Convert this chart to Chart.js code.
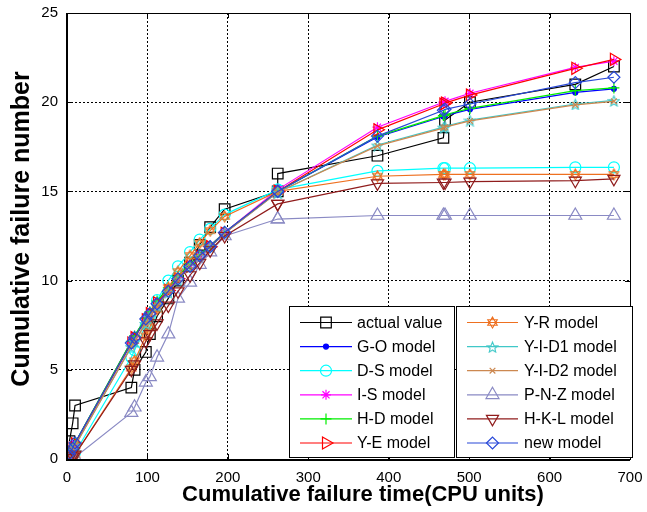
<!DOCTYPE html>
<html>
<head>
<meta charset="utf-8">
<script src="https://cdn.jsdelivr.net/npm/chart.js@4/dist/chart.umd.min.js"></script>
<style>
  html, body { margin: 0; padding: 0; background: #fff; }
  canvas { display: block; }
</style>
</head>
<body>
<canvas id="chart" width="647" height="512"></canvas>
<script>
// cumulative CPU time of each failure (x) and the fitted models (y)
const cpuTime = [3, 7, 10, 80, 84, 98, 103, 112, 126, 138, 153, 165, 178, 196, 262, 262, 386, 468, 470, 501, 632, 680];
const actualValue = [1, 2, 3, 4, 5, 6, 7, 8, 9, 10, 11, 12, 13, 14, 15, 16, 17, 18, 19, 20, 21, 22];
const goModel   = [0.3, 0.65, 0.9, 6.6, 6.9, 7.9, 8.25, 8.85, 9.6, 10.25, 10.95, 11.45, 11.95, 12.7, 15.0, 15.0, 18.05, 19.2, 19.25, 19.6, 20.55, 20.75];
const dsModel   = [0.05, 0.2, 0.35, 5.7, 6.1, 7.5, 8.0, 8.9, 10.0, 10.8, 11.6, 12.3, 12.9, 13.7, 15.1, 15.1, 16.15, 16.3, 16.3, 16.3, 16.35, 16.35];
const isModel   = [0.25, 0.6, 0.85, 6.5, 6.85, 7.85, 8.2, 8.8, 9.5, 10.15, 10.85, 11.4, 11.95, 12.7, 15.1, 15.1, 18.6, 20.0, 20.05, 20.5, 21.95, 22.3];
const hdModel   = [0.3, 0.65, 0.9, 6.6, 6.9, 7.9, 8.25, 8.85, 9.6, 10.25, 10.95, 11.45, 11.95, 12.7, 15.0, 15.0, 18.1, 19.25, 19.3, 19.65, 20.65, 20.8];
const yeModel   = [0.25, 0.6, 0.85, 6.5, 6.8, 7.8, 8.15, 8.75, 9.45, 10.1, 10.8, 11.35, 11.9, 12.65, 15.0, 15.0, 18.45, 19.9, 19.95, 20.4, 21.9, 22.4];
const yrModel   = [0.05, 0.15, 0.25, 5.1, 5.5, 6.9, 7.4, 8.4, 9.6, 10.5, 11.4, 12.1, 12.8, 13.6, 15.0, 15.0, 15.85, 15.95, 15.95, 15.95, 15.95, 15.95];
const yid1Model = [0.2, 0.5, 0.75, 6.3, 6.6, 7.6, 8.0, 8.6, 9.35, 10.05, 10.8, 11.35, 11.9, 12.65, 14.95, 14.95, 17.6, 18.6, 18.65, 19.0, 19.9, 20.1];
const yid2Model = [0.2, 0.5, 0.75, 6.3, 6.6, 7.6, 8.0, 8.6, 9.35, 10.05, 10.8, 11.35, 11.9, 12.65, 14.95, 14.95, 17.55, 18.55, 18.6, 18.95, 19.85, 20.05];
const pnzModel  = [0.02, 0.05, 0.1, 2.6, 2.9, 4.3, 4.6, 5.7, 7.0, 9.0, 9.9, 10.9, 11.6, 12.5, 13.45, 13.45, 13.65, 13.65, 13.65, 13.65, 13.65, 13.65];
const hklModel  = [0.05, 0.15, 0.25, 5.0, 5.3, 6.6, 7.0, 7.6, 8.6, 9.4, 10.3, 11.0, 11.7, 12.5, 14.3, 14.3, 15.45, 15.5, 15.5, 15.55, 15.6, 15.7];
const newModel  = [0.3, 0.6, 0.9, 6.5, 6.8, 7.85, 8.15, 8.7, 9.4, 10.1, 10.8, 11.4, 11.9, 12.7, 15.0, 15.0, 18.1, 19.55, 19.6, 19.9, 21.1, 21.4];

const xTicks = [0, 100, 200, 300, 400, 500, 600, 700];
const yTicks = [0, 5, 10, 15, 20, 25];

const FONT = "'Liberation Sans', Arial, sans-serif";

// outline markers MATLAB has but Chart.js doesn't
function makeMarker(kind, color, size) {
  const c = document.createElement('canvas');
  c.width = c.height = size;
  const g = c.getContext('2d');
  g.strokeStyle = color;
  g.lineWidth = 1.1;
  const m = size / 2, r = size / 2 - 1;
  g.beginPath();
  if (kind === 'hexagram') {
    for (let k = 0; k < 2; k++) {
      for (let j = 0; j < 3; j++) {
        const a = -Math.PI / 2 + k * Math.PI + j * 2 * Math.PI / 3;
        const px = m + r * Math.cos(a), py = m + r * Math.sin(a);
        if (j) g.lineTo(px, py); else g.moveTo(px, py);
      }
      g.closePath();
    }
  } else {
    for (let j = 0; j < 10; j++) {
      const a = -Math.PI / 2 + j * Math.PI / 5;
      const rr = j % 2 ? r * 0.45 : r;
      const px = m + rr * Math.cos(a), py = m + 1 + rr * Math.sin(a);
      if (j) g.lineTo(px, py); else g.moveTo(px, py);
    }
    g.closePath();
  }
  g.stroke();
  return c;
}

const NONE = 'rgba(0,0,0,0)';
// label, values, colour, point style, radius, rotation, fill
const series = [
  ['actual value', actualValue, '#000000', 'rect', 7.5, 0, NONE],
  ['G-O model', goModel, '#0000ff', 'circle', 2.5, 0, '#0000ff'],
  ['D-S model', dsModel, '#00ffff', 'circle', 5.5, 0, NONE],
  ['I-S model', isModel, '#ff00ff', 'star', 5, 0, NONE],
  ['H-D model', hdModel, '#00ee00', 'cross', 5.5, 0, NONE],
  ['Y-E model', yeModel, '#ff0000', 'triangle', 7, 90, NONE],
  ['Y-R model', yrModel, '#ee7020', makeMarker('hexagram', '#ee7020', 13), 6, 0, NONE],
  ['Y-I-D1 model', yid1Model, '#40c8c8', makeMarker('pentagram', '#40c8c8', 13), 6, 0, NONE],
  ['Y-I-D2 model', yid2Model, '#cc8850', 'crossRot', 4, 0, NONE],
  ['P-N-Z model', pnzModel, '#8a8ac4', 'triangle', 7.5, 0, NONE],
  ['H-K-L model', hklModel, '#901c1c', 'triangle', 7, 180, NONE],
  ['new model', newModel, '#2848d8', 'rectRot', 6, 0, NONE]
];

const datasets = series.map(([label, vals, color, style, radius, rot, fill], i) => ({
  label,
  data: cpuTime.map((x, k) => ({ x, y: vals[k] })),
  borderColor: color,
  backgroundColor: color,
  borderWidth: 1.2,
  pointStyle: style,
  pointRadius: radius,
  pointRotation: rot,
  pointBorderColor: color,
  pointBackgroundColor: fill,
  pointBorderWidth: 1.2,
  tension: 0,
  fill: false,
  order: -i
}));

const framePlugin = {
  id: 'frame',
  afterDraw(chart) {
    const { ctx, chartArea: a, scales } = chart;
    ctx.save();
    ctx.strokeStyle = '#000';
    ctx.setLineDash([]);
    // inward ticks
    ctx.lineWidth = 1;
    ctx.beginPath();
    xTicks.forEach(v => {
      const px = Math.round(scales.x.getPixelForValue(v)) + 0.5;
      ctx.moveTo(px, a.bottom); ctx.lineTo(px, a.bottom - 5);
      ctx.moveTo(px, a.top); ctx.lineTo(px, a.top + 5);
    });
    yTicks.forEach(v => {
      const py = Math.round(scales.y.getPixelForValue(v)) + 0.5;
      ctx.moveTo(a.left, py); ctx.lineTo(a.left + 5, py);
      ctx.moveTo(a.right, py); ctx.lineTo(a.right - 5, py);
    });
    ctx.stroke();
    ctx.strokeRect(Math.round(a.left) + 0.5, Math.round(a.top) + 0.5, Math.round(a.right - a.left), Math.round(a.bottom - a.top));
    ctx.lineWidth = 2;
    ctx.beginPath();
    ctx.moveTo(a.left, a.top); ctx.lineTo(a.left, a.bottom + 1); ctx.lineTo(a.right, a.bottom + 1);
    ctx.stroke();

    // axis titles
    ctx.fillStyle = '#000';
    ctx.font = 'bold 22px ' + FONT;
    ctx.textAlign = 'center';
    ctx.textBaseline = 'middle';
    ctx.fillText('Cumulative failure time(CPU units)', 363, 495);
    ctx.translate(22, 229);
    ctx.rotate(-Math.PI / 2);
    ctx.font = 'bold 25px ' + FONT;
    ctx.fillText('Cumulative failure number', 0, 0);
    ctx.restore();

    // two-column boxed legend
    ctx.save();
    const cols = [
      { x0: 289, x1: 454, line: [300, 352], text: 357, items: [0, 1, 2, 3, 4, 5] },
      { x0: 456, x1: 632, line: [467, 518], text: 524, items: [6, 7, 8, 9, 10, 11] }
    ];
    const top = 306, bottom = 457, rowH = 24.1, firstRow = 322.5;
    cols.forEach(col => {
      ctx.fillStyle = '#fff';
      ctx.fillRect(col.x0, top, col.x1 - col.x0, bottom - top);
      ctx.strokeStyle = '#000';
      ctx.lineWidth = 1;
      ctx.strokeRect(col.x0 + 0.5, top + 0.5, col.x1 - col.x0, bottom - top);
      col.items.forEach((idx, r) => {
        const ds = chart.data.datasets[idx];
        const y = firstRow + r * rowH;
        ctx.strokeStyle = ds.borderColor;
        ctx.lineWidth = 1.2;
        ctx.beginPath();
        ctx.moveTo(col.line[0], y); ctx.lineTo(col.line[1], y);
        ctx.stroke();
        const mid = (col.line[0] + col.line[1]) / 2;
        if (Chart.helpers && Chart.helpers.drawPoint) {
          ctx.fillStyle = ds.pointBackgroundColor;
          Chart.helpers.drawPoint(ctx, {
            pointStyle: ds.pointStyle,
            radius: ds.pointRadius,
            rotation: ds.pointRotation,
            borderWidth: 1.2
          }, mid, y);
        }
        ctx.fillStyle = '#000';
        ctx.font = '16px ' + FONT;
        ctx.textAlign = 'left';
        ctx.textBaseline = 'middle';
        ctx.fillText(ds.label, col.text, y + 1);
      });
    });
    ctx.restore();
  }
};

new Chart(document.getElementById('chart'), {
  type: 'line',
  data: { datasets },
  options: {
    responsive: false,
    animation: false,
    devicePixelRatio: 1,
    layout: { padding: { left: 0, top: 13, right: 17, bottom: 0 } },
    plugins: { legend: { display: false }, tooltip: { enabled: false } },
    scales: {
      x: {
        type: 'linear',
        min: 0,
        max: 700,
        afterBuildTicks: s => { s.ticks = xTicks.map(v => ({ value: v })); },
        afterFit: s => { s.height = 53; s.paddingLeft = 0; s.paddingRight = 0; },
        grid: { color: '#000', lineWidth: 1, drawTicks: false },
        border: { display: false, dash: [2, 2] },
        ticks: { color: '#000', padding: 10, maxRotation: 0, font: { family: FONT, size: 15 } }
      },
      y: {
        type: 'linear',
        min: 0,
        max: 25,
        afterBuildTicks: s => { s.ticks = yTicks.map(v => ({ value: v })); },
        afterFit: s => { s.width = 67; s.paddingTop = 0; s.paddingBottom = 0; },
        grid: { color: '#000', lineWidth: 1, drawTicks: false },
        border: { display: false, dash: [2, 2] },
        ticks: { color: '#000', padding: 9, font: { family: FONT, size: 15 } }
      }
    }
  },
  plugins: [framePlugin]
});
</script>
</body>
</html>
